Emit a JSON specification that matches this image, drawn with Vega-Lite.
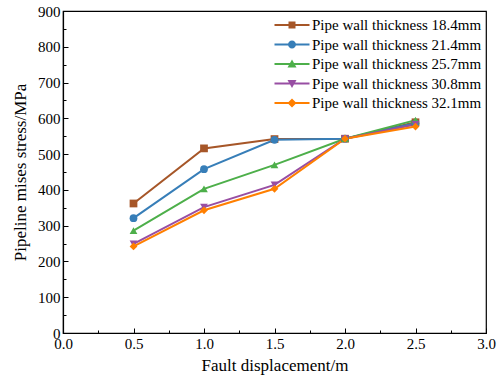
{
  "$schema": "https://vega.github.io/schema/vega-lite/v6.json",
  "width": 423,
  "height": 322,
  "autosize": "none",
  "padding": {"left": 63, "top": 11, "right": 16, "bottom": 42},
  "background": "white",
  "config": {
    "font": "Liberation Serif",
    "view": {"stroke": "black", "strokeWidth": 1.2},
    "axis": {
      "domainColor": "black", "domainWidth": 1.2,
      "tickColor": "black", "tickWidth": 1,
      "labelColor": "black", "labelFont": "Liberation Serif", "labelFontSize": 15,
      "titleColor": "black", "titleFont": "Liberation Serif", "titleFontSize": 17, "titleFontWeight": "normal",
      "grid": false, "labelOverlap": false, "labelFlush": false
    },
    "legend": {
      "orient": "top-right", "offset": 4, "padding": 0,
      "labelFont": "Liberation Serif", "labelFontSize": 15, "labelColor": "black",
      "labelOffset": 10, "rowPadding": 1.5, "symbolSize": 400, "symbolStrokeWidth": 0, "symbolOpacity": 1, "labelLimit": 300
    }
  },
  "data": {"values": [
    {"x": 0.5, "y": 362, "t": "Pipe wall thickness 18.4mm"},
    {"x": 1.0, "y": 516, "t": "Pipe wall thickness 18.4mm"},
    {"x": 1.5, "y": 542, "t": "Pipe wall thickness 18.4mm"},
    {"x": 2.0, "y": 543, "t": "Pipe wall thickness 18.4mm"},
    {"x": 2.5, "y": 589, "t": "Pipe wall thickness 18.4mm"},
    {"x": 0.5, "y": 321, "t": "Pipe wall thickness 21.4mm"},
    {"x": 1.0, "y": 458, "t": "Pipe wall thickness 21.4mm"},
    {"x": 1.5, "y": 540, "t": "Pipe wall thickness 21.4mm"},
    {"x": 2.0, "y": 543, "t": "Pipe wall thickness 21.4mm"},
    {"x": 2.5, "y": 586, "t": "Pipe wall thickness 21.4mm"},
    {"x": 0.5, "y": 286, "t": "Pipe wall thickness 25.7mm"},
    {"x": 1.0, "y": 403, "t": "Pipe wall thickness 25.7mm"},
    {"x": 1.5, "y": 470, "t": "Pipe wall thickness 25.7mm"},
    {"x": 2.0, "y": 543, "t": "Pipe wall thickness 25.7mm"},
    {"x": 2.5, "y": 595, "t": "Pipe wall thickness 25.7mm"},
    {"x": 0.5, "y": 249, "t": "Pipe wall thickness 30.8mm"},
    {"x": 1.0, "y": 352, "t": "Pipe wall thickness 30.8mm"},
    {"x": 1.5, "y": 414, "t": "Pipe wall thickness 30.8mm"},
    {"x": 2.0, "y": 543, "t": "Pipe wall thickness 30.8mm"},
    {"x": 2.5, "y": 583, "t": "Pipe wall thickness 30.8mm"},
    {"x": 0.5, "y": 242, "t": "Pipe wall thickness 32.1mm"},
    {"x": 1.0, "y": 343, "t": "Pipe wall thickness 32.1mm"},
    {"x": 1.5, "y": 403, "t": "Pipe wall thickness 32.1mm"},
    {"x": 2.0, "y": 543, "t": "Pipe wall thickness 32.1mm"},
    {"x": 2.5, "y": 577, "t": "Pipe wall thickness 32.1mm"}
  ]},
  "encoding": {
    "x": {
      "field": "x", "type": "quantitative",
      "scale": {"domain": [0, 3], "nice": false, "zero": false},
      "axis": {
        "title": "Fault displacement/m",
        "values": [0, 0.25, 0.5, 0.75, 1, 1.25, 1.5, 1.75, 2, 2.25, 2.5, 2.75, 3],
        "labelExpr": "(datum.value * 2) % 1 === 0 ? format(datum.value, '.1f') : ''",
        "tickSize": {"condition": {"test": "(datum.value * 2) % 1 === 0", "value": -5}, "value": -3},
        "labelPadding": 8,
        "titlePadding": 4
      }
    },
    "y": {
      "field": "y", "type": "quantitative",
      "scale": {"domain": [0, 900], "nice": false},
      "axis": {
        "title": "Pipeline mises stress/MPa",
        "values": [0, 50, 100, 150, 200, 250, 300, 350, 400, 450, 500, 550, 600, 650, 700, 750, 800, 850, 900],
        "labelExpr": "datum.value % 100 === 0 ? datum.label : ''",
        "tickSize": {"condition": {"test": "datum.value % 100 === 0", "value": -5}, "value": -3},
        "labelPadding": 8,
        "titlePadding": 8
      }
    },
    "color": {
      "field": "t", "type": "nominal", "title": null,
      "scale": {"range": ["#A65628", "#377EB8", "#4DAF4A", "#984EA3", "#FF7F00"]},
      "legend": {
        "encode": {"symbols": {"update": {
          "fill": {"scale": "color", "field": "value"},
          "stroke": {"value": "transparent"},
          "strokeWidth": {"value": 0},
          "opacity": {"value": 1},
          "size": {"value": 400},
          "shape": {"signal": "datum.value === 'Pipe wall thickness 18.4mm' ? 'M-1.75,-0.1H1.75V0.1H-1.75Z M-0.35,-0.35H0.35V0.35H-0.35Z' : datum.value === 'Pipe wall thickness 21.4mm' ? 'M-1.75,-0.1H1.75V0.1H-1.75Z M0.4,0A0.4,0.4 0 1,1 -0.4,0A0.4,0.4 0 1,1 0.4,0Z' : datum.value === 'Pipe wall thickness 25.7mm' ? 'M-1.75,-0.1H1.75V0.1H-1.75Z M0,-0.45L0.45,0.35L-0.45,0.35Z' : datum.value === 'Pipe wall thickness 30.8mm' ? 'M-1.75,-0.1H1.75V0.1H-1.75Z M-0.45,-0.35L0.45,-0.35L0,0.45Z' : 'M-1.75,-0.1H1.75V0.1H-1.75Z M0,-0.45L0.45,0L0,0.45L-0.45,0Z'"}
        }}}
      }
    }
  },
  "layer": [
    {
      "mark": {"type": "line", "strokeWidth": 2}
    },
    {
      "mark": {"type": "point", "filled": true, "opacity": 1, "size": 60},
      "encoding": {
        "shape": {"field": "t", "type": "nominal", "legend": null,
          "scale": {"range": ["square", "circle", "triangle-up", "triangle-down", "diamond"]}}
      }
    }
  ]
}
